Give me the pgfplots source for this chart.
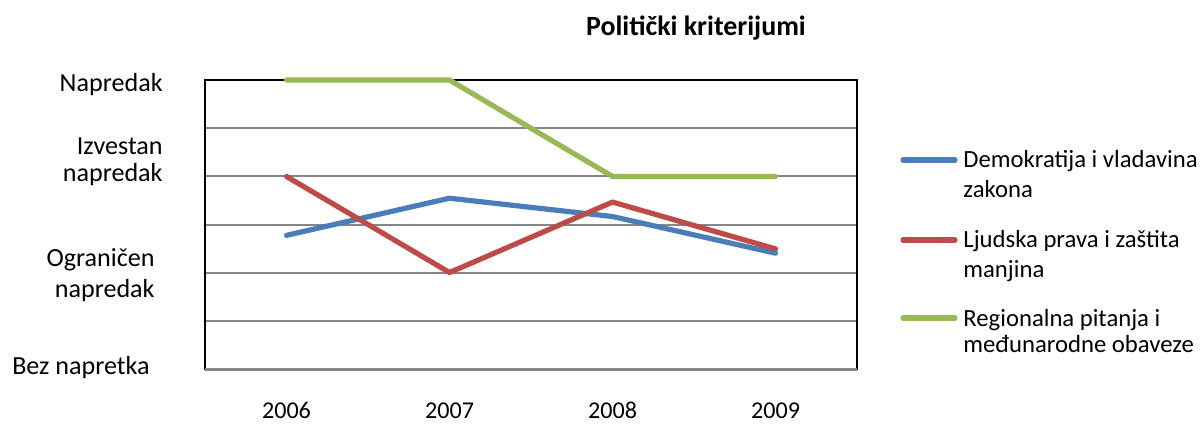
\documentclass[border=0pt]{standalone}
\usepackage{pgfplots}
\pgfplotsset{compat=1.18}
\usepackage{fontspec}
\setmainfont{Carlito}
\definecolor{cblue}{HTML}{4A7EBB}
\definecolor{cred}{HTML}{BE4B48}
\definecolor{cgreen}{HTML}{98B954}
\definecolor{cgrid}{HTML}{868686}
\begin{document}
\fontsize{13.1}{15}\selectfont
\begin{tikzpicture}[x=0.5bp,y=0.5bp]
\useasboundingbox (0,0) rectangle (1202,425);
\begin{axis}[
  at={(102.5bp,27.75bp)}, anchor=south west,
  scale only axis, width=326bp, height=144.75bp,
  xmin=-0.5, xmax=3.5, ymin=0, ymax=6,
  xtick={0,1,2,3}, xticklabels={2006,2007,2008,2009},
  xticklabel style={anchor=base, yshift=-24.5bp, font=\fontsize{12.1}{14}\selectfont},
  ytick={0,1,2,3,4,5,6}, yticklabels={},
  major tick length=0pt,
  ymajorgrids, grid style={cgrid, line width=1bp},
  axis line style={black, line width=1bp},
  every axis plot/.append style={line width=2.6bp, line cap=round, line join=round},
  clip=false,
]
\draw[cgrid, line width=1.2bp] (axis cs:-0.5,0) -- (axis cs:3.5,0);
\addplot[cblue] coordinates {(0,2.78) (1,3.55) (2,3.17) (3,2.41)};
\addplot[cred] coordinates {(0,4.0) (1,2.01) (2,3.47) (3,2.5)};
\addplot[cgreen] coordinates {(0,6) (1,6) (2,4) (3,4)};
\end{axis}
% y labels
\node[anchor=base east, inner sep=0] at (163,333) {Napredak};
\node[anchor=base east, inner sep=0] at (163,270) {Izvestan};
\node[anchor=base east, inner sep=0] at (163,243) {napredak};
\node[anchor=base east, inner sep=0] at (155,158) {Ograničen};
\node[anchor=base east, inner sep=0] at (155,127) {napredak};
\node[anchor=base east, inner sep=0] at (150,50) {Bez napretka};
% title
\node[anchor=base, inner sep=0, font=\fontsize{14}{16}\selectfont\bfseries] at (696,389) {Politički kriterijumi};
% legend
\begin{scope}[every node/.style={font=\fontsize{12.4}{14}\selectfont, anchor=base west, inner sep=0}]
\draw[cblue, line width=2.6bp, line cap=round] (903,265) -- (955,265);
\node at (963,257) {Demokratija i vladavina};
\node at (963,227) {zakona};
\draw[cred, line width=2.6bp, line cap=round] (903,185) -- (955,185);
\node at (963,177) {Ljudska prava i zaštita};
\node at (963,147) {manjina};
\draw[cgreen, line width=2.6bp, line cap=round] (903,107) -- (955,107);
\node at (963,98) {Regionalna pitanja i};
\node at (963,72) {međunarodne obaveze};
\end{scope}
\end{tikzpicture}
\end{document}
